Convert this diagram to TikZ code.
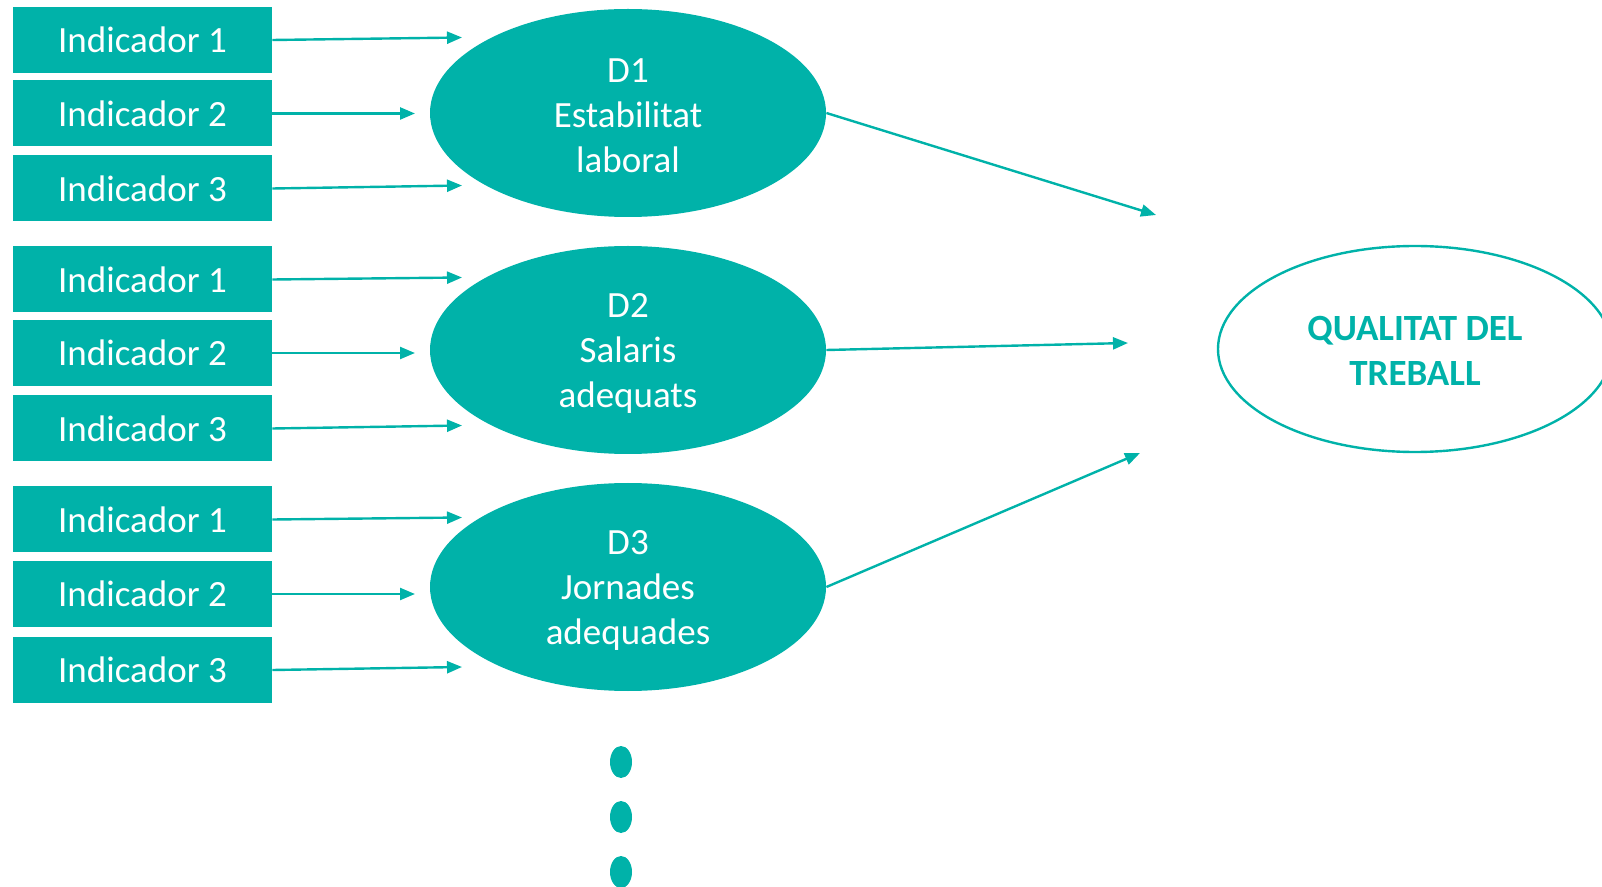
\documentclass[tikz,border=0pt]{standalone}
\usepackage{fontspec}
\setmainfont{Carlito}
\usetikzlibrary{shapes.geometric,arrows.meta}
\definecolor{teal}{RGB}{0,178,169}

\begin{document}
\begin{tikzpicture}[x=0.5pt,y=-0.5pt,
  indbox/.style={fill=teal,text=white,minimum width=129.5pt,minimum height=33pt,inner sep=0pt,font=\fontsize{18.5}{22.5}\selectfont},
  dim/.style={ellipse,fill=teal,minimum width=198pt,minimum height=104pt,inner sep=0pt},
  dimtext/.style={text=white,align=center,inner sep=0pt,yshift=-1.6pt,font=\fontsize{18.5}{22.5}\selectfont},
  arr/.style={teal,line width=1.2pt,-{Triangle[length=7.5pt,width=6pt]}},
  dot/.style={ellipse,fill=teal,minimum width=11pt,minimum height=16pt,inner sep=0pt}]
\useasboundingbox (0,0) rectangle (1602,887);
% indicators
\node[indbox](i11) at (142.5,40){Indicador 1};
\node[indbox](i12) at (142.5,113.5){Indicador 2};
\node[indbox](i13) at (142.5,188.5){Indicador 3};
\node[indbox](i21) at (142.5,279.5){Indicador 1};
\node[indbox](i22) at (142.5,353){Indicador 2};
\node[indbox](i23) at (142.5,428.5){Indicador 3};
\node[indbox](i31) at (142.5,519.5){Indicador 1};
\node[indbox](i32) at (142.5,594){Indicador 2};
\node[indbox](i33) at (142.5,670){Indicador 3};
% dimensions
\node[dim](d1) at (628,113){};
\node[dimtext](d1t) at (d1){D1\\Estabilitat\\laboral};
\node[dim](d2) at (628,350){};
\node[dimtext](d2t) at (d2){D2\\Salaris\\adequats};
\node[dim](d3) at (628,587){};
\node[dimtext](d3t) at (d3){D3\\Jornades\\adequades};
\node[ellipse,draw=teal,line width=1.2pt,minimum width=197pt,minimum height=103pt,inner sep=0pt](q) at (1415,349){};
\node[text=teal,align=center,inner sep=0pt,yshift=-1pt,font=\fontsize{18.5}{22.5}\selectfont\bfseries](qt) at (q){QUALITAT DEL\\TREBALL};
% arrow ends
\coordinate (t11) at (462,37.5);
\coordinate (t12) at (415,113.5);
\coordinate (t13) at (462,185.5);
\coordinate (t21) at (462,277.5);
\coordinate (t22) at (415,353);
\coordinate (t23) at (462,425.5);
\coordinate (t31) at (462,517.5);
\coordinate (t32) at (415,594);
\coordinate (t33) at (462,667);
\coordinate (q1) at (1156,215);
\coordinate (q2) at (1128,343);
\coordinate (q3) at (1140,453);
\draw[arr](i11.east)--(t11);
\draw[arr](i12.east)--(t12);
\draw[arr](i13.east)--(t13);
\draw[arr](i21.east)--(t21);
\draw[arr](i22.east)--(t22);
\draw[arr](i23.east)--(t23);
\draw[arr](i31.east)--(t31);
\draw[arr](i32.east)--(t32);
\draw[arr](i33.east)--(t33);
\draw[arr](d1.east)--(q1);
\draw[arr](d2.east)--(q2);
\draw[arr](d3.east)--(q3);
% more dimensions
\node[dot](dot1) at (621,762){};
\node[dot](dot2) at (621,817){};
\node[dot](dot3) at (621,872){};
\end{tikzpicture}
\end{document}
